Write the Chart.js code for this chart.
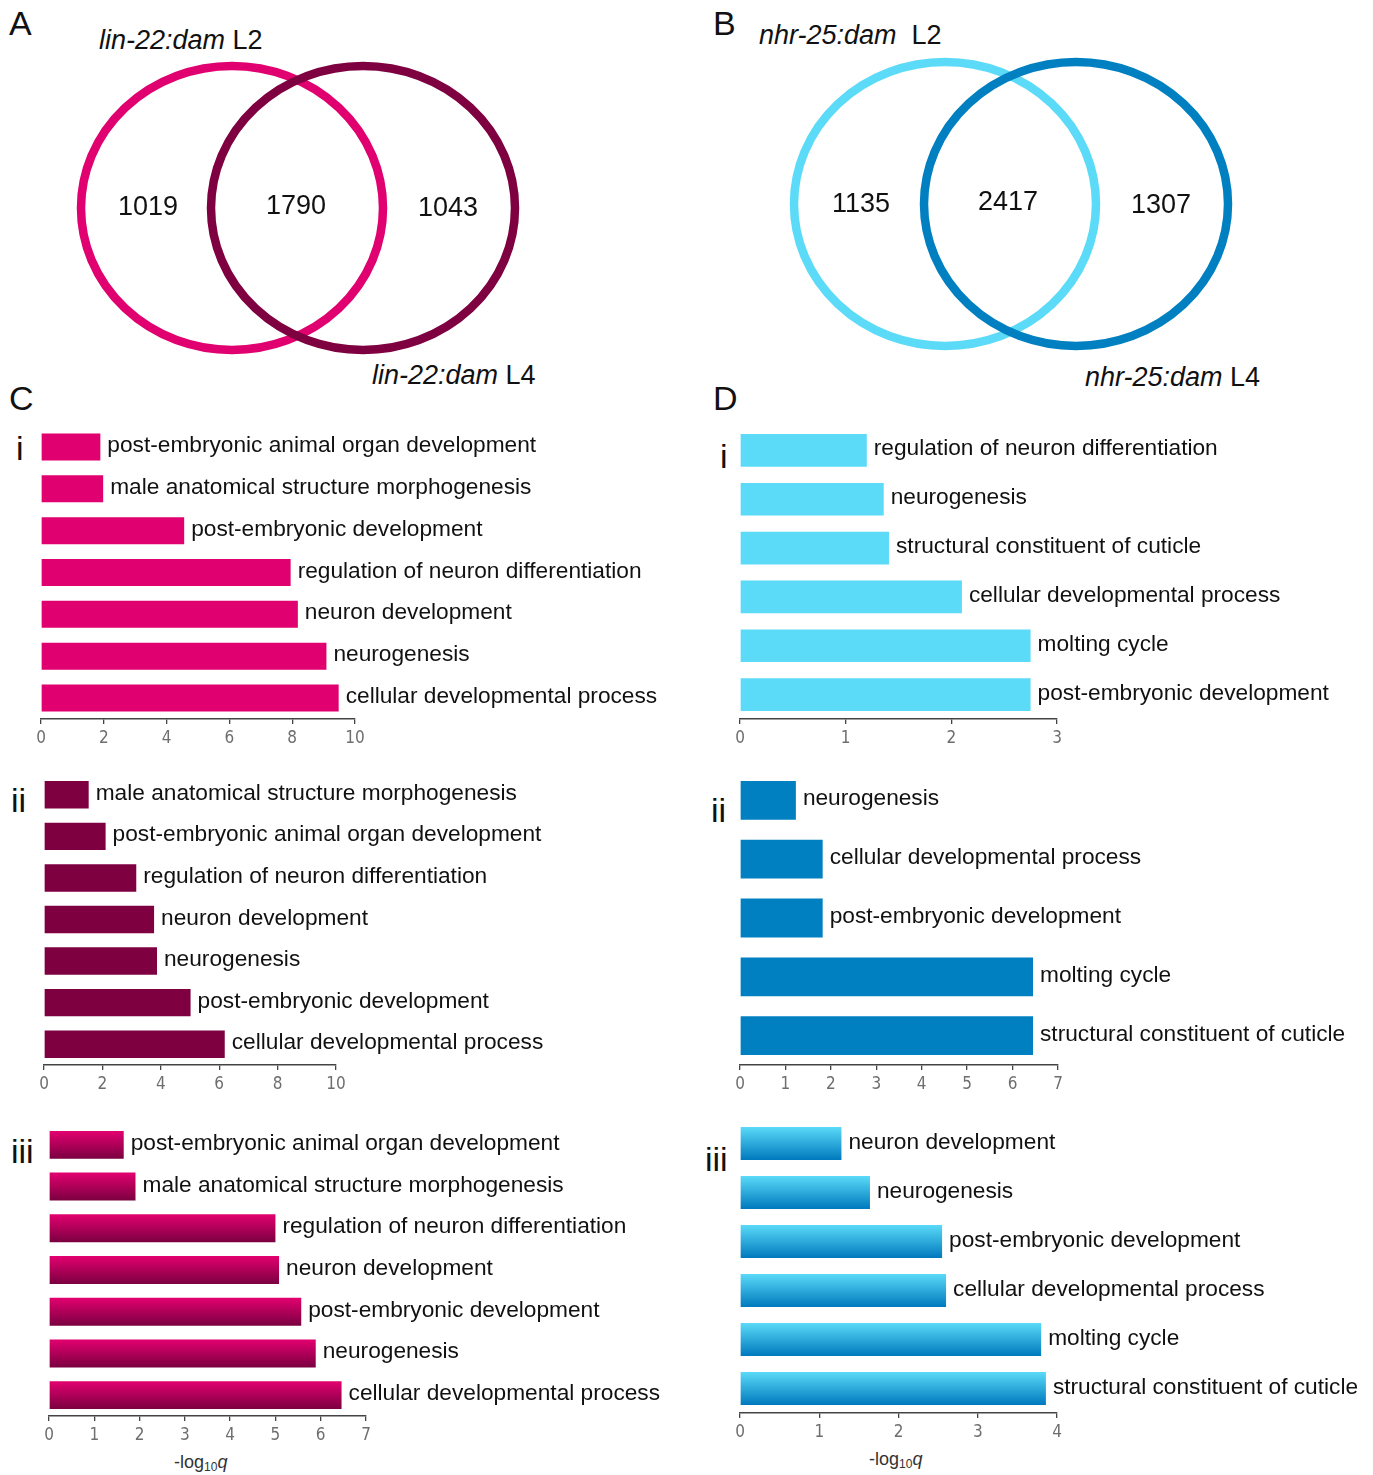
<!DOCTYPE html>
<html>
<head>
<meta charset="utf-8">
<script src="https://cdn.jsdelivr.net/npm/chart.js@4.4.1/dist/chart.umd.min.js"></script>
<style>
  body { margin: 0; background: #fff; }
  #figure { position: relative; width: 1373px; height: 1475px; background: #fff; overflow: hidden;
            font-family: "Liberation Sans", Arial, sans-serif; color: #111; }
  #figure canvas { position: absolute; }
  .txt { position: absolute; white-space: nowrap; line-height: 1; }
  .letter { font-size: 34px; }
  .roman { font-size: 34px; }
  .setname { font-size: 27px; }
  .xtitle { font-size: 18px; color: #333; font-family: "Liberation Sans Narrow", "Liberation Sans", Arial, sans-serif; }
  .xtitle sub { font-size: 12px; vertical-align: -3px; }
</style>
</head>
<body>
<div id="figure">
  <div class="txt letter" style="left:9px;top:6px">A</div>
  <div class="txt letter" style="left:713px;top:6px">B</div>
  <div class="txt letter" style="left:9px;top:381px">C</div>
  <div class="txt letter" style="left:713px;top:381px">D</div>

  <div class="txt setname" style="left:99px;top:27px"><i>lin-22:dam</i> L2</div>
  <div class="txt setname" style="left:372px;top:362px"><i>lin-22:dam</i> L4</div>
  <div class="txt setname" style="left:759px;top:22px"><i>nhr-25:dam</i>&nbsp; L2</div>
  <div class="txt setname" style="left:1085px;top:364px"><i>nhr-25:dam</i> L4</div>

  <div class="txt roman" style="left:16px;top:431px">i</div>
  <div class="txt roman" style="left:11px;top:783px">ii</div>
  <div class="txt roman" style="left:11px;top:1134px">iii</div>
  <div class="txt roman" style="left:720px;top:439px">i</div>
  <div class="txt roman" style="left:711px;top:793px">ii</div>
  <div class="txt roman" style="left:705px;top:1142px">iii</div>

  <div class="txt xtitle" style="left:174px;top:1453px">-log<sub>10</sub><i>q</i></div>
  <div class="txt xtitle" style="left:869px;top:1450px">-log<sub>10</sub><i>q</i></div>

  <canvas id="venn-a" width="690" height="400" style="left:0;top:0"></canvas>
  <canvas id="venn-b" width="683" height="400" style="left:690px;top:0"></canvas>
  <canvas id="go-ci"></canvas>
  <canvas id="go-cii"></canvas>
  <canvas id="go-ciii"></canvas>
  <canvas id="go-di"></canvas>
  <canvas id="go-dii"></canvas>
  <canvas id="go-diii"></canvas>
</div>

<script>
// overlap counts: only L2, shared, only L4
const lin22_counts = [1019, 1790, 1043]
const nhr25_counts = [1135, 2417, 1307]

// GO terms (top to bottom) and -log10 q values
const ci_terms = ['post-embryonic animal organ development', 'male anatomical structure morphogenesis',
  'post-embryonic development', 'regulation of neuron differentiation', 'neuron development',
  'neurogenesis', 'cellular developmental process']
const ci_values = [1.89, 1.98, 4.56, 7.95, 8.18, 9.09, 9.48]

const cii_terms = ['male anatomical structure morphogenesis', 'post-embryonic animal organ development',
  'regulation of neuron differentiation', 'neuron development', 'neurogenesis',
  'post-embryonic development', 'cellular developmental process']
const cii_values = [1.53, 2.11, 3.16, 3.77, 3.87, 5.02, 6.19]

const ciii_terms = ['post-embryonic animal organ development', 'male anatomical structure morphogenesis',
  'regulation of neuron differentiation', 'neuron development', 'post-embryonic development',
  'neurogenesis', 'cellular developmental process']
const ciii_values = [1.65, 1.91, 5.0, 5.08, 5.57, 5.89, 6.46]

const di_terms = ['regulation of neuron differentiation', 'neurogenesis', 'structural constituent of cuticle',
  'cellular developmental process', 'molting cycle', 'post-embryonic development']
const di_values = [1.20, 1.36, 1.41, 2.10, 2.75, 2.75]

const dii_terms = ['neurogenesis', 'cellular developmental process', 'post-embryonic development',
  'molting cycle', 'structural constituent of cuticle']
const dii_values = [1.23, 1.82, 1.82, 6.45, 6.45]

const diii_terms = ['neuron development', 'neurogenesis', 'post-embryonic development',
  'cellular developmental process', 'molting cycle', 'structural constituent of cuticle']
const diii_values = [1.28, 1.64, 2.55, 2.60, 3.80, 3.86]

// axis ends
const ci_max = 10, cii_max = 10, ciii_max = 7
const di_max = 3, dii_max = 7, diii_max = 4

const PINK = '#e0006f'
const MAROON = '#7f0041'
const SKY = '#5cdbf8'
const BLUE = '#0080c0'

Chart.defaults.font.family = '"Liberation Sans", Arial, sans-serif'
Chart.defaults.animation = false

// ---------- venn diagrams ----------

const vennPlugin = {
  id: 'venn',
  afterDraw(chart, args, opts) {
    const ctx = chart.ctx
    const sx = chart.scales.x, sy = chart.scales.y
    ctx.save()
    ctx.lineWidth = 8.5
    opts.sets.forEach(s => {
      ctx.strokeStyle = s.color
      ctx.beginPath()
      ctx.ellipse(sx.getPixelForValue(s.cx), sy.getPixelForValue(s.cy),
        sx.getPixelForValue(s.cx + s.rx) - sx.getPixelForValue(s.cx),
        sy.getPixelForValue(s.cy + s.ry) - sy.getPixelForValue(s.cy), 0, 0, Math.PI * 2)
      ctx.stroke()
    })
    ctx.fillStyle = '#111'
    ctx.font = '27px "Liberation Sans", Arial, sans-serif'
    ctx.textAlign = 'center'
    ctx.textBaseline = 'alphabetic'
    opts.counts.forEach((n, i) => {
      const p = opts.spots[i]
      ctx.fillText(String(n), sx.getPixelForValue(p[0]), sy.getPixelForValue(p[1]) + 10)
    })
    ctx.restore()
  }
}

function venn(id, w, counts, sets, spots){
  return new Chart(document.getElementById(id), {
    type: 'scatter',
    data: { datasets: [{ data: [] }] },
    options: {
      responsive: false,
      layout: { padding: 0 },
      plugins: { legend: { display: false }, tooltip: { enabled: false },
        venn: { counts: counts, sets: sets, spots: spots } },
      scales: {
        x: { type: 'linear', min: 0, max: w, display: false },
        y: { type: 'linear', min: 0, max: 400, reverse: true, display: false }
      }
    },
    plugins: [vennPlugin]
  })
}

venn('venn-a', 690, lin22_counts,
  [{ cx: 232, cy: 208, rx: 151, ry: 142, color: PINK },
   { cx: 363, cy: 208, rx: 152, ry: 142, color: MAROON }],
  [[148, 205], [296, 204], [448, 206]])

venn('venn-b', 683, nhr25_counts,
  [{ cx: 255, cy: 204, rx: 151, ry: 142, color: SKY },
   { cx: 386, cy: 204, rx: 152, ry: 142, color: BLUE }],
  [[171, 202], [318, 200], [471, 203]])

// ---------- GO bar charts ----------

const termLabels = {
  id: 'termLabels',
  afterDatasetsDraw(chart){
    const ctx = chart.ctx
    const meta = chart.getDatasetMeta(0)
    ctx.save()
    ctx.font = '22.7px "Liberation Sans", Arial, sans-serif'
    ctx.fillStyle = '#111'
    ctx.textBaseline = 'alphabetic'
    ctx.textAlign = 'left'
    meta.data.forEach((bar, i) => {
      ctx.fillText(chart.data.labels[i], bar.x + 7, bar.y + 5)
    })
    ctx.restore()
  }
}

function shaded(top, bottom, barPct){
  return (c) => {
    const y = c.chart.scales.y
    if (!c.chart.chartArea || !y) return top
    const mid = y.getPixelForValue(c.dataIndex)
    const half = y.height / c.chart.data.labels.length * barPct / 2
    const g = c.chart.ctx.createLinearGradient(0, mid - half, 0, mid + half)
    g.addColorStop(0, top)
    g.addColorStop(1, bottom)
    return g
  }
}

function goPanel(id, terms, values, max, step, fill, box){
  const canvas = document.getElementById(id)
  const axisH = 32
  const left = box.x0 - 20
  canvas.width = box.right - left
  canvas.height = box.bottom - box.top + axisH
  canvas.style.left = left + 'px'
  canvas.style.top = box.top + 'px'
  const plotW = box.x1 - box.x0

  return new Chart(canvas, {
    type: 'bar',
    data: {
      labels: terms,
      datasets: [{ data: values, backgroundColor: fill, borderWidth: 0,
        barPercentage: box.barPct, categoryPercentage: 1 }]
    },
    options: {
      indexAxis: 'y',
      responsive: false,
      layout: { padding: { left: 20, right: canvas.width - 20 - plotW, top: 0, bottom: 0 } },
      plugins: { legend: { display: false }, tooltip: { enabled: false } },
      scales: {
        x: {
          type: 'linear', min: 0, max: max,
          afterFit: (s) => { s.height = axisH },
          grid: { drawOnChartArea: false, drawTicks: true, tickLength: 5, tickColor: '#444', lineWidth: 1.3 },
          border: { display: true, color: '#444', width: 1.6 },
          ticks: { stepSize: step, padding: 4, color: '#6e6e6e',
            font: { family: '"Liberation Sans Narrow", "DejaVu Sans Condensed", Arial, sans-serif', size: 17 } }
        },
        y: { type: 'category', display: false }
      }
    },
    plugins: [termLabels]
  })
}

goPanel('go-ci', ci_terms, ci_values, ci_max, 2, PINK,
  { x0: 41, x1: 355, top: 426, bottom: 719, right: 690, barPct: 0.645 })
goPanel('go-cii', cii_terms, cii_values, cii_max, 2, MAROON,
  { x0: 44, x1: 336, top: 774, bottom: 1065, right: 690, barPct: 0.66 })
goPanel('go-ciii', ciii_terms, ciii_values, ciii_max, 1, shaded('#e3006f', '#7a0040', 0.67),
  { x0: 49, x1: 366, top: 1124, bottom: 1416, right: 690, barPct: 0.67 })

goPanel('go-di', di_terms, di_values, di_max, 1, SKY,
  { x0: 740, x1: 1057, top: 426, bottom: 719, right: 1373, barPct: 0.67 })
goPanel('go-dii', dii_terms, dii_values, dii_max, 1, BLUE,
  { x0: 740, x1: 1058, top: 771, bottom: 1065, right: 1373, barPct: 0.66 })
goPanel('go-diii', diii_terms, diii_values, diii_max, 1, shaded('#5adaf8', '#0079bd', 0.67),
  { x0: 740, x1: 1057, top: 1119, bottom: 1413, right: 1373, barPct: 0.67 })
</script>
</body>
</html>
